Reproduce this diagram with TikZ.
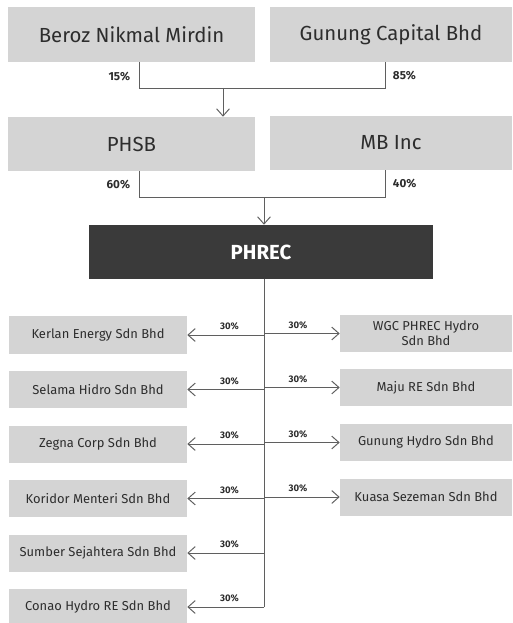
\documentclass[tikz,border=0pt]{standalone}
\usepackage{fontspec}
\setmainfont{Fira Sans}
\usetikzlibrary{arrows.meta}
\definecolor{boxgray}{RGB}{212,212,212}
\definecolor{darkbox}{RGB}{58,58,58}
\definecolor{inkgray}{RGB}{45,45,45}
\definecolor{linegray}{RGB}{95,95,95}
\tikzset{
  bigbox/.style={fill=boxgray,text=inkgray,minimum width=6.175cm,minimum height=1.375cm,font=\fontsize{14.5}{16}\selectfont},
  smallbox/.style={fill=boxgray,text=inkgray,minimum width=4.45cm,minimum height=0.925cm,align=center,font=\fontsize{9.2}{10.5}\selectfont},
  rbox/.style={smallbox,minimum width=4.3cm},
  toppct/.style={text=inkgray,font=\fontsize{8.3}{10}\selectfont\bfseries},
  pct/.style={text=inkgray,font=\fontsize{6.8}{8}\selectfont\bfseries,above,pos=0.45,inner sep=3pt},
  link/.style={draw=linegray,line width=0.7pt}
}

\begin{document}
\begin{tikzpicture}[x=0.025cm,y=-0.025cm,>={Straight Barb[length=1.8mm,width=3.2mm]}]
\useasboundingbox (0,0) rectangle (512,623);
% owners
\node[bigbox] (beroz) at (131.5,34.5) {Beroz Nikmal Mirdin};
\node[bigbox,minimum width=6.05cm] (gunung) at (391,34.5) {Gunung Capital Bhd};
\node[bigbox,minimum height=1.35cm] (phsb) at (131.5,144) {PHSB};
\node[bigbox,minimum width=6.05cm,minimum height=1.35cm] (mbinc) at (391,143) {MB Inc};
\node[bigbox,fill=darkbox,text=white,minimum width=8.6cm,minimum height=1.35cm,font=\fontsize{14.5}{16}\selectfont\bfseries] (phrec) at (261,252) {PHREC};

\coordinate (jl1) at (139,88); \coordinate (jr1) at (385,88); \coordinate (j1) at (223,88);
\draw[link] (beroz.south -| jl1) -- (jl1) -- (jr1) -- (gunung.south -| jr1);
\draw[link,->] (j1) -- (j1 |- phsb.north);
\node[toppct,anchor=east] (p15) at (135,77) {15\%};
\node[toppct,anchor=west] (p85) at (388,76) {85\%};

\coordinate (jl2) at (139,197); \coordinate (jr2) at (385,197); \coordinate (j2) at (264,197);
\draw[link] (phsb.south -| jl2) -- (jl2) -- (jr2) -- (mbinc.south -| jr2);
\draw[link,->] (j2) -- (j2 |- phrec.north);
\node[toppct,anchor=east] (p60) at (135,185) {60\%};
\node[toppct,anchor=west] (p40) at (388,184) {40\%};

% subsidiaries
\node[smallbox] (kerlan) at (98,335) {Kerlan Energy Sdn Bhd};
\node[smallbox] (selama) at (98,389.5) {Selama Hidro Sdn Bhd};
\node[smallbox] (zegna) at (98,444) {Zegna Corp Sdn Bhd};
\node[smallbox] (koridor) at (98,498.5) {Koridor Menteri Sdn Bhd};
\node[smallbox] (sumber) at (98,553) {Sumber Sejahtera Sdn Bhd};
\node[smallbox] (conao) at (98,607) {Conao Hydro RE Sdn Bhd};
\node[rbox] (wgc) at (426,333.5) {WGC PHREC Hydro\\Sdn Bhd};
\node[rbox] (maju) at (426,387.5) {Maju RE Sdn Bhd};
\node[rbox] (gunhydro) at (426,442.5) {Gunung Hydro Sdn Bhd};
\node[rbox] (kuasa) at (426,497) {Kuasa Sezeman Sdn Bhd};

\coordinate (t) at (264,0);
\draw[link] (t |- phrec.south) -- (t |- conao.east);
\foreach \n in {kerlan,selama,zegna,koridor,sumber,conao}
  \draw[link,->] (t |- \n.east) -- node[pct] {30\%} (\n.east);
\foreach \n in {wgc,maju,gunhydro,kuasa}
  \draw[link,->] (t |- \n.west) -- node[pct] {30\%} (\n.west);
\end{tikzpicture}
\end{document}
